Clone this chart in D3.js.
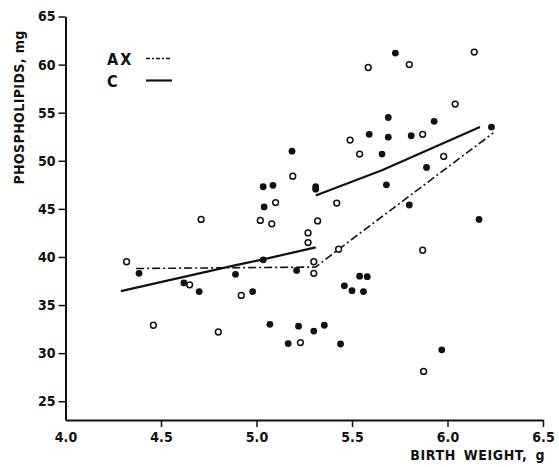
<!DOCTYPE html>
<html>
<head>
<meta charset="utf-8">
<script src="https://cdn.jsdelivr.net/npm/d3@7"></script>
<style>
  body { margin: 0; background: #fff; }
  svg { display: block; }
  svg text { font-family: "DejaVu Sans Condensed", "DejaVu Sans", sans-serif; font-weight: bold; fill: #111; }
  .axis path, .axis line { stroke: #111; }
</style>
</head>
<body>
<svg id="chart" width="559" height="467"></svg>
<script>
// open circles (AX)
const axWeight = [4.32, 4.65, 4.92, 4.46, 4.80, 4.71, 5.19, 5.10, 5.42, 5.02, 5.08, 5.32, 5.27, 5.27,
  5.30, 5.30, 5.43, 5.23, 5.87, 5.875, 5.585, 5.80, 6.14, 6.04, 5.87, 5.49, 5.54, 5.98];
const axLipids = [39.5, 37.1, 36.0, 32.9, 32.2, 43.9, 48.4, 45.65, 45.6, 43.8, 43.45, 43.75, 42.5, 41.5,
  39.5, 38.3, 40.8, 31.1, 40.7, 28.1, 59.7, 60.0, 61.3, 55.9, 52.75, 52.15, 50.7, 50.45];

// filled circles (C)
const cWeight = [4.385, 4.62, 4.70, 4.89, 4.98, 5.035, 5.07, 5.186, 5.035, 5.086, 5.04, 5.31, 5.31,
  5.21, 5.46, 5.50, 5.54, 5.58, 5.56, 5.22, 5.30, 5.355, 5.166, 5.44, 5.97, 5.727, 5.69, 5.93,
  5.59, 5.69, 5.81, 6.23, 5.657, 5.89, 5.68, 5.80, 6.165];
const cLipids = [38.3, 37.3, 36.4, 38.2, 36.4, 39.7, 33.0, 51.0, 47.3, 47.45, 45.2, 47.3, 47.05,
  38.6, 37.0, 36.5, 38.0, 37.95, 36.4, 32.8, 32.3, 32.9, 31.0, 30.95, 30.35, 61.2, 54.5, 54.1,
  52.75, 52.45, 52.6, 53.5, 50.7, 49.3, 47.5, 45.4, 43.9];

// fitted lines
const axLineX = [4.37, 5.31, 5.43, 6.24];
const axLineY = [38.8, 38.95, 40.8, 52.9];
const cLine1X = [4.29, 4.88, 5.035, 5.31];
const cLine1Y = [36.45, 39.1, 39.75, 41.0];
const cLine2X = [5.31, 5.66, 6.17];
const cLine2Y = [46.4, 49.05, 53.5];

const xTicks = [4.0, 4.5, 5.0, 5.5, 6.0, 6.5];
const yTicks = [25, 30, 35, 40, 45, 50, 55, 60, 65];

const svg = d3.select("#chart");

const x = d3.scaleLinear().domain([4, 6.5]).range([65.5, 543]);
const y = d3.scaleLinear().domain([23.05, 65]).range([420, 16.5]);

const yAxis = svg.append("g")
  .attr("class", "axis")
  .attr("transform", `translate(${x(4)},0)`)
  .call(d3.axisLeft(y).tickValues(yTicks).tickSize(7).tickSizeOuter(0).tickPadding(3));
yAxis.select(".domain").attr("stroke-width", 2);
yAxis.selectAll(".tick line").attr("stroke-width", 1.5);
yAxis.selectAll(".tick text").attr("font-size", 14);

const xAxis = svg.append("g")
  .attr("class", "axis")
  .attr("transform", `translate(0,${y(23.05)})`)
  .call(d3.axisBottom(x).tickValues(xTicks).tickFormat(d3.format(".1f")).tickSize(7).tickSizeOuter(0).tickPadding(5));
xAxis.select(".domain").attr("stroke-width", 2);
xAxis.selectAll(".tick line").attr("stroke-width", 1.5)
  .filter((d) => d === 4).remove();
xAxis.selectAll(".tick text").attr("font-size", 14);

svg.append("text")
  .attr("transform", `translate(24,${(y(65) + y(46.5)) / 2 + 2}) rotate(-90)`)
  .attr("text-anchor", "middle")
  .attr("font-size", 14)
  .attr("letter-spacing", 0.4)
  .text("PHOSPHOLIPIDS, mg");

svg.append("text")
  .attr("x", 545)
  .attr("y", 460)
  .attr("text-anchor", "end")
  .attr("font-size", 14)
  .attr("letter-spacing", 0.6)
  .attr("word-spacing", 3)
  .text("BIRTH WEIGHT, g");

// lines
const line = d3.line().x((d) => x(d[0])).y((d) => y(d[1]));
const zip = (a, b) => a.map((v, i) => [v, b[i]]);

svg.append("path")
  .attr("d", line(zip(axLineX, axLineY)))
  .attr("fill", "none")
  .attr("stroke", "#111")
  .attr("stroke-width", 1.6)
  .attr("stroke-dasharray", "8,3,2,3");

[zip(cLine1X, cLine1Y), zip(cLine2X, cLine2Y)].forEach((pts) => {
  svg.append("path")
    .attr("d", line(pts))
    .attr("fill", "none")
    .attr("stroke", "#111")
    .attr("stroke-width", 2.2);
});

// points
svg.append("g")
  .selectAll("circle")
  .data(zip(axWeight, axLipids))
  .join("circle")
  .attr("cx", (d) => x(d[0]))
  .attr("cy", (d) => y(d[1]))
  .attr("r", 2.9)
  .attr("fill", "#fff")
  .attr("stroke", "#111")
  .attr("stroke-width", 1.5);

svg.append("g")
  .selectAll("circle")
  .data(zip(cWeight, cLipids))
  .join("circle")
  .attr("cx", (d) => x(d[0]))
  .attr("cy", (d) => y(d[1]))
  .attr("r", 3.4)
  .attr("fill", "#111");

// legend
const legend = svg.append("g").attr("font-size", 16);
legend.append("text").attr("x", 107).attr("y", 65).attr("letter-spacing", 2).text("AX");
legend.append("text").attr("x", 107).attr("y", 87).text("C");
legend.append("line")
  .attr("x1", 146).attr("x2", 172).attr("y1", 58.5).attr("y2", 58.5)
  .attr("stroke", "#111").attr("stroke-width", 1.6).attr("stroke-dasharray", "4,2,2,2");
legend.append("line")
  .attr("x1", 146).attr("x2", 172).attr("y1", 80.5).attr("y2", 80.5)
  .attr("stroke", "#111").attr("stroke-width", 2.2);
</script>
</body>
</html>
